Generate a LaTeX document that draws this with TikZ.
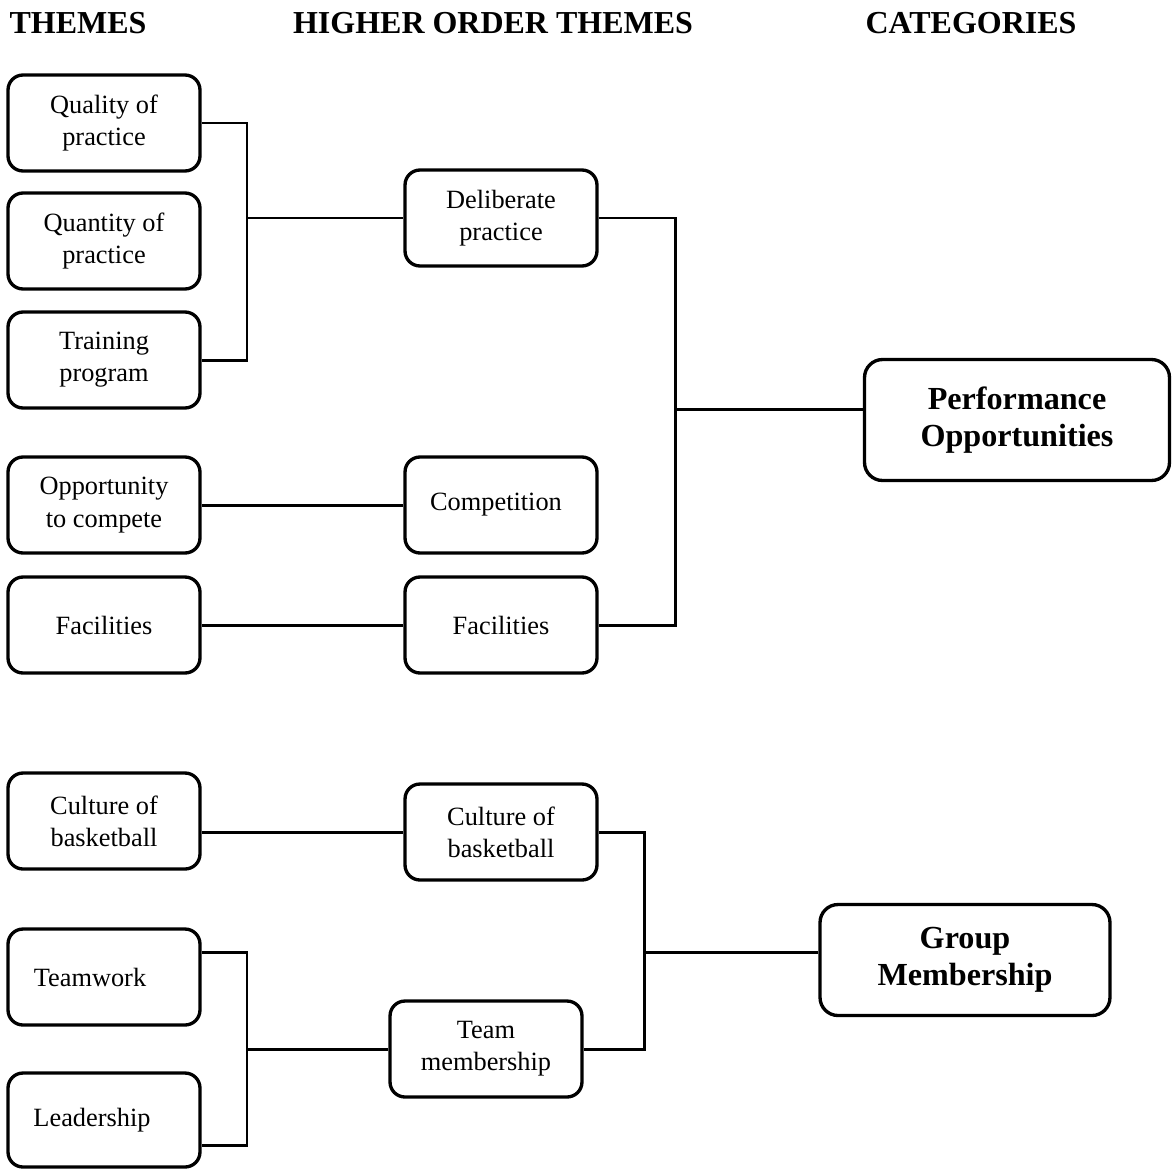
\documentclass[tikz,border=0pt]{standalone}
\usepackage{fontspec}
\setmainfont{Liberation Serif}
\begin{document}
\begin{tikzpicture}[x=0.02cm,y=-0.02cm,
  box/.style={draw,line width=1.9pt,rounded corners=0.3cm,minimum width=3.84cm,
    minimum height=1.92cm,align=center,inner sep=0pt,
    font=\fontsize{15}{18.3}\selectfont},
  catbox/.style={draw,line width=1.9pt,rounded corners=0.36cm,align=center,
    inner sep=0pt,font=\bfseries\fontsize{18.3}{21.2}\selectfont},
  link/.style={line width=1.7pt},
  head/.style={font=\bfseries\fontsize{18.2}{22}\selectfont}]
\useasboundingbox (0,0) rectangle (1172,1170);

% column headings
\node[head] (h1) at (78,23) {THEMES};
\node[head] (h2) at (493,23) {HIGHER ORDER THEMES};
\node[head] (h3) at (971,23) {CATEGORIES};

% themes
\node[box] (q)  at (104,123)  {Quality of\\practice};
\node[box] (qn) at (104,241)  {Quantity of\\practice};
\node[box] (tp) at (104,360)  {Training\\program};
\node[box] (oc) at (104,505)  {Opportunity\\to compete};
\node[box] (fa) at (104,625)  {Facilities};
\node[box] (cb) at (104,821)  {Culture of\\basketball};
\node[box] (tw) at (104,977)  {Teamwork\hspace*{0.56cm}};
\node[box,minimum height=1.88cm] (ld) at (104,1120) {Leadership\hspace*{0.48cm}};

% higher order themes
\node[box] (dp) at (501,218)  {Deliberate\\practice};
\node[box] (co) at (501,505)  {Competition\hspace*{0.2cm}};
\node[box] (hf) at (501,625)  {Facilities};
\node[box] (hc) at (501,832)  {Culture of\\basketball};
\node[box] (tm) at (486,1049) {Team\\membership};

% categories
\node[catbox,minimum width=6.1cm,minimum height=2.42cm] (po) at (1017,420)
  {Performance\\Opportunities};
\node[catbox,minimum width=5.8cm,minimum height=2.22cm] (gm) at (965,960)
  {Group\\Membership};

% junctions
\coordinate (ja) at (247,218);
\coordinate (jb) at (675,409);
\coordinate (jc) at (644,952);
\coordinate (tj) at (247,952);
\coordinate (lj) at (247,1145);
\coordinate (jd) at (247,1049);

% connectors
\draw[link] (q.east) -| (ja |- tp.east) -- (tp.east);
\draw[link] (ja) -- (dp.west);
\draw[link] (oc.east) -- (co.west);
\draw[link] (fa.east) -- (hf.west);
\draw[link] (dp.east) -| (jb |- hf.east) -- (hf.east);
\draw[link] (jb) -- (jb -| po.west);
\draw[link] (cb.east |- hc.west) -- (hc.west);
\draw[link] (hc.east) -| (jc |- tm.east) -- (tm.east);
\draw[link] (jc) -- (jc -| gm.west);
\draw[link] (tw.east |- tj) -- (tj) -- (lj) -- (lj -| ld.east);
\draw[link] (jd) -- (tm.west);
\end{tikzpicture}
\end{document}
